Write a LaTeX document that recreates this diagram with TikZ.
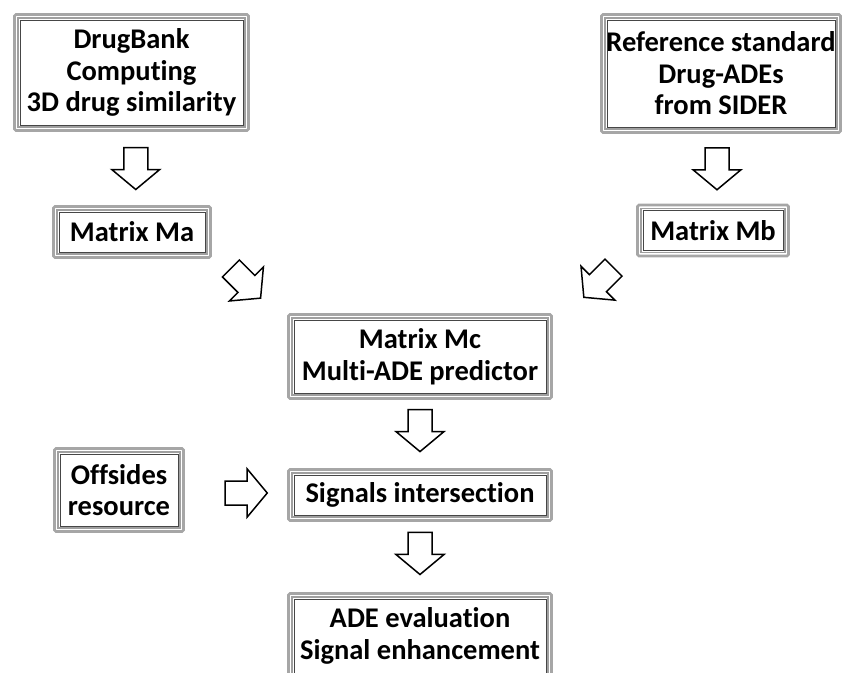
\documentclass[tikz,border=0pt]{standalone}
\usepackage{fontspec}
\setmainfont{Carlito}[Ligatures=NoCommon]
\usetikzlibrary{calc}

\begin{document}
\begin{tikzpicture}[x=1pt,y=-1pt,
  box/.style={draw=gray!70,line width=2.6pt,rounded corners=1.5pt,fill=white,
    align=center,inner sep=0pt,font=\bfseries\fontsize{28.5}{31.5}\selectfont,
    path picture={
      \draw[gray!75,line width=1.6pt,sharp corners]
        ([shift={(3.4pt,-3.4pt)}]path picture bounding box.north west) rectangle
        ([shift={(-3.4pt,3.4pt)}]path picture bounding box.south east);
      \draw[gray!55!black,line width=.7pt,sharp corners]
        ([shift={(5.6pt,-5.6pt)}]path picture bounding box.north west) rectangle
        ([shift={(-5.6pt,5.6pt)}]path picture bounding box.south east);}},
  blk/.pic={\draw[line width=1.5pt,fill=white,line join=miter]
    (-12,-21)--(12,-21)--(12,1)--(24,1)--(0,21)--(-24,1)--(-12,1)--cycle;}]
\useasboundingbox (0,0) rectangle (843,672);
% boxes
\node[box,minimum width=234pt,minimum height=116pt](drug) at (131.5,72.5){DrugBank\\Computing\\3D drug similarity};
\node[box,minimum width=239pt,minimum height=118pt](ref) at (721,73.5){Reference standard\\Drug-ADEs\\from SIDER};
\node[box,minimum width=157pt,minimum height=51pt](ma) at (132,232){Matrix Ma};
\node[box,minimum width=151pt,minimum height=51pt](mb) at (713,230.5){Matrix Mb};
\node[box,minimum width=263pt,minimum height=84pt](mc) at (420,356.5){Matrix Mc\\Multi-ADE predictor};
\node[box,minimum width=129pt,minimum height=83pt](off) at (119,490){Offsides\\resource};
\node[box,minimum width=263pt,minimum height=51pt](sig) at (420,495){Signals intersection};
\node[box,minimum width=263pt,minimum height=85pt](ade) at (420,636){ADE evaluation\\Signal enhancement};
% block arrows
\pic at ($(drug.south)!.5!(ma.north)+(4,0)$) {blk};
\pic at ($(ref.south)!.5!(mb.north)$) {blk};
\pic[rotate=45] at ($(ma.south east)!.45!(mc.north west)$) {blk};
\pic[rotate=-45] at ($(mb.south west)!.45!(mc.north east)$) {blk};
\pic at ($(mc.south)!.45!(sig.north)$) {blk};
\pic[rotate=90] at ($(off.east)!.6!(sig.west)$) {blk};
\pic at ($(sig.south)!.45!(ade.north)$) {blk};
\end{tikzpicture}
\end{document}
